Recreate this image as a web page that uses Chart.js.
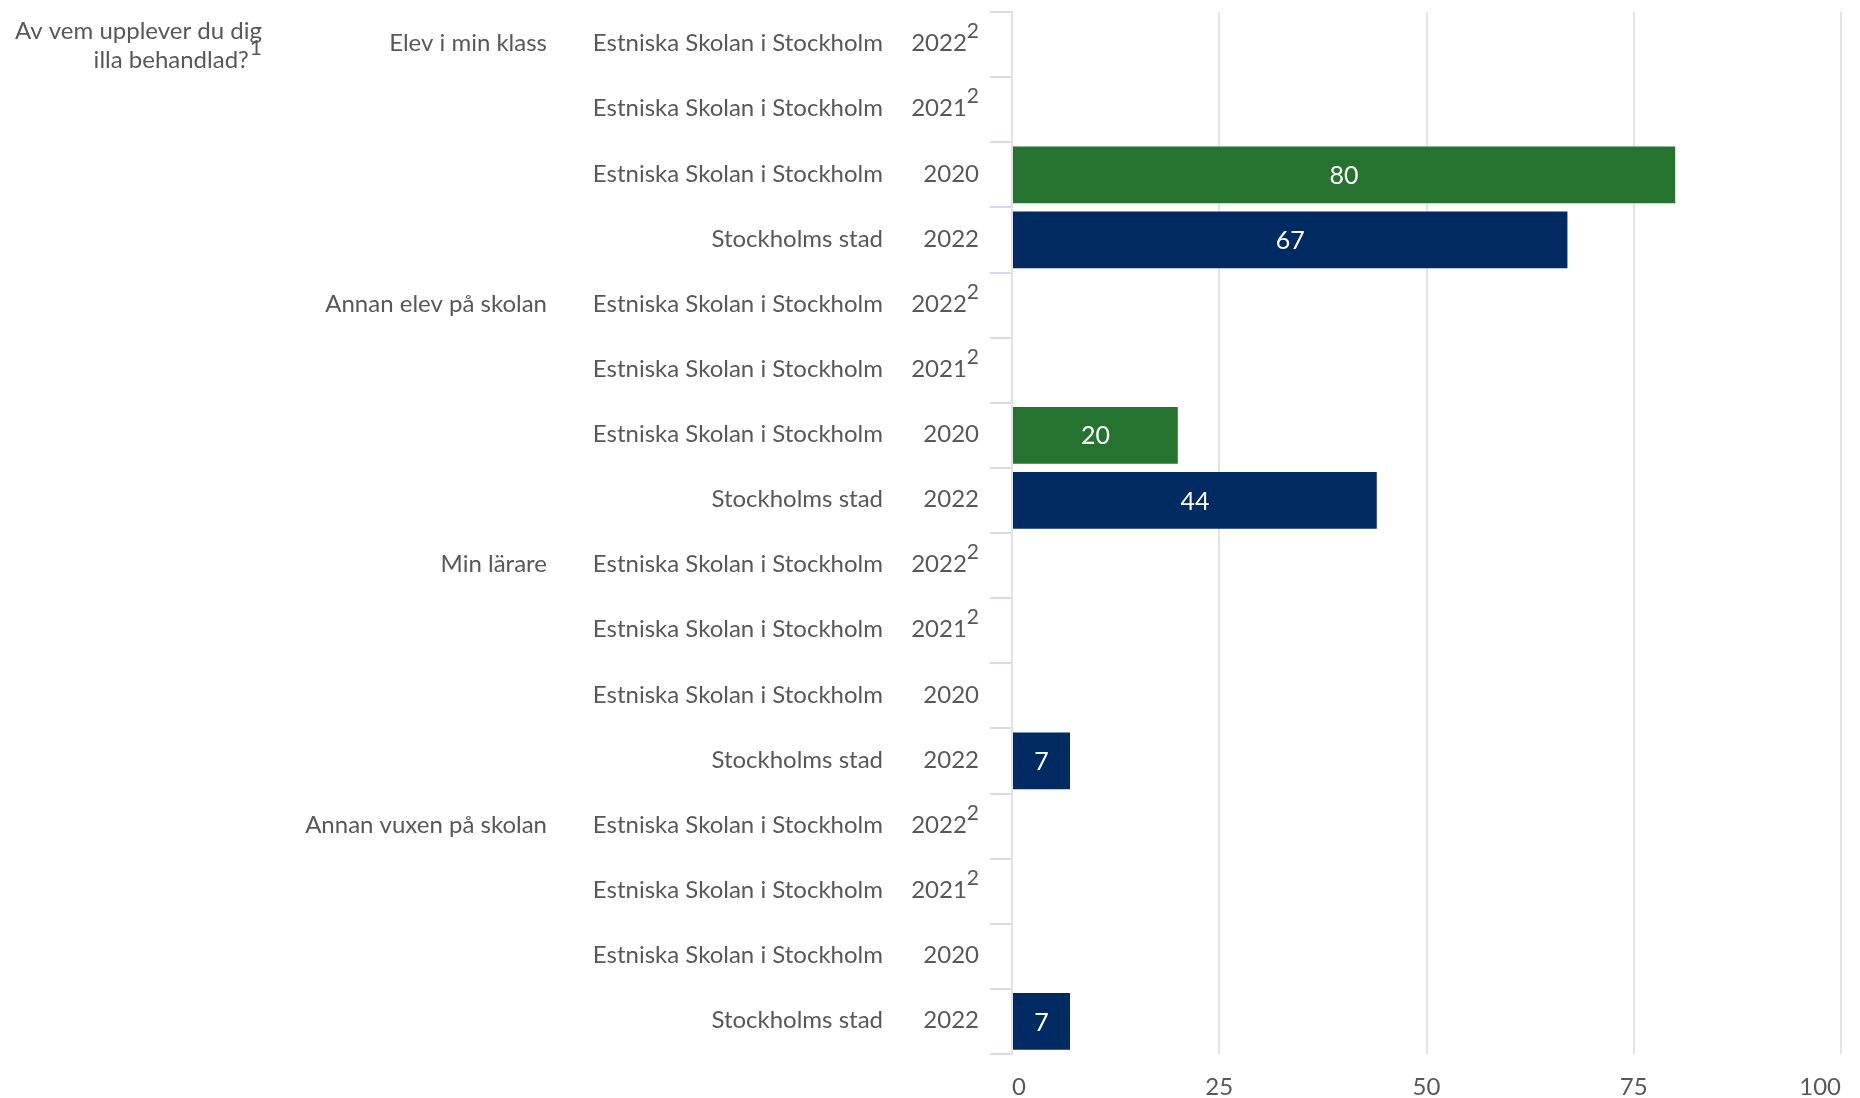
<!DOCTYPE html>
<html>
<head>
<meta charset="utf-8">
<script src="https://cdn.jsdelivr.net/npm/chart.js@4.4.1/dist/chart.umd.min.js"></script>
<style>
  html, body { margin: 0; padding: 0; background: #fff; }
  #wrap { width: 1860px; height: 1098px; }
</style>
</head>
<body>
<div id="wrap"><canvas id="chart"></canvas></div>
<script>
/* global Chart */

const groups = ["Elev i min klass", "Annan elev på skolan", "Min lärare", "Annan vuxen på skolan"];
const units = ["Estniska Skolan i Stockholm", "Estniska Skolan i Stockholm", "Estniska Skolan i Stockholm", "Stockholms stad"];
const years = ["2022", "2021", "2020", "2022"];
const yearNotes = ["2", "2", "", ""];
const estniskaValues = [null, null, 80, null, null, null, 20, null, null, null, null, null, null, null, null, null];
const stadValues = [null, null, null, 67, null, null, null, 44, null, null, null, 7, null, null, null, 7];
const xTicks = [0, 25, 50, 75, 100];
const titleLines = ["Av vem upplever du dig", "illa behandlad?"];
const titleNote = "1";

const textColor = "#585858";
const font = "Lato";

// one row per bar slot: group label only on the first row of each group
let rows = [];
groups.forEach((g) => {
  years.forEach((yr, j) => {
    rows.push({ group: j === 0 ? g : "", unit: units[j], year: yr, note: yearNotes[j] });
  });
});

const textColumns = {
  id: "textColumns",
  afterDraw(chart) {
    const c = chart.ctx;
    const yScale = chart.scales.y;
    c.save();
    c.fillStyle = textColor;
    c.textAlign = "right";
    c.textBaseline = "middle";

    rows.forEach((r, i) => {
      const py = yScale.getPixelForValue(i) - 1;
      c.font = "24px " + font;
      if (r.group) c.fillText(r.group, 547, py);
      c.fillText(r.unit, 883, py);
      let right = 979;
      if (r.note) {
        c.font = "21px " + font;
        c.fillText(r.note, right, py - 12);
        right -= c.measureText(r.note).width;
        c.font = "24px " + font;
      }
      c.fillText(r.year, right, py);
    });

    // question title, top left
    c.font = "24px " + font;
    c.fillText(titleLines[0], 262, 31);
    c.font = "21px " + font;
    const nw = c.measureText(titleNote).width;
    c.fillText(titleNote, 262, 48);
    c.font = "24px " + font;
    c.fillText(titleLines[1], 262 - nw - 1, 60);
    c.restore();
  },
  afterDatasetsDraw(chart) {
    const c = chart.ctx;
    c.save();
    c.fillStyle = "#ffffff";
    c.font = "25px " + font;
    c.textAlign = "center";
    c.textBaseline = "middle";
    chart.data.datasets.forEach((ds, di) => {
      chart.getDatasetMeta(di).data.forEach((bar, i) => {
        if (ds.data[i] == null) return;
        c.fillText(ds.data[i], (bar.x + bar.base) / 2, bar.y + 1);
      });
    });
    c.restore();
  },
};

var ctx = document.getElementById("chart").getContext("2d");
var chart = new Chart(ctx, {
  type: "bar",
  data: {
    labels: rows.map((r) => r.year),
    datasets: [
      {
        label: "Estniska Skolan i Stockholm",
        data: estniskaValues,
        backgroundColor: "#267330",
        barPercentage: 0.87,
        categoryPercentage: 1,
      },
      {
        label: "Stockholms stad",
        data: stadValues,
        backgroundColor: "#002b62",
        barPercentage: 0.87,
        categoryPercentage: 1,
      },
    ],
  },
  options: {
    indexAxis: "y",
    responsive: true,
    maintainAspectRatio: false,
    animation: false,
    layout: { padding: { top: 12, right: 15, left: 0, bottom: 0 } },
    plugins: {
      legend: { display: false },
      tooltip: { enabled: false },
    },
    scales: {
      x: {
        stacked: true,
        min: 0,
        max: 100,
        afterBuildTicks: (s) => {
          s.ticks = xTicks.map((v) => ({ value: v }));
        },
        afterFit: (s) => {
          s.height = 44;
        },
        ticks: {
          color: textColor,
          font: { family: font, size: 24 },
          padding: 19,
          align: "inner",
        },
        grid: { color: "#e4e4e4", lineWidth: 2, drawTicks: false },
        border: { display: false },
      },
      y: {
        stacked: true,
        afterFit: (s) => {
          s.width = 1012;
        },
        ticks: { display: false },
        grid: {
          drawOnChartArea: false,
          drawTicks: true,
          tickLength: 22,
          color: "#d3dcec",
          lineWidth: 2,
        },
        border: { display: true, color: "#e2e2e6", width: 2 },
      },
    },
  },
  plugins: [textColumns],
});
</script>
</body>
</html>
